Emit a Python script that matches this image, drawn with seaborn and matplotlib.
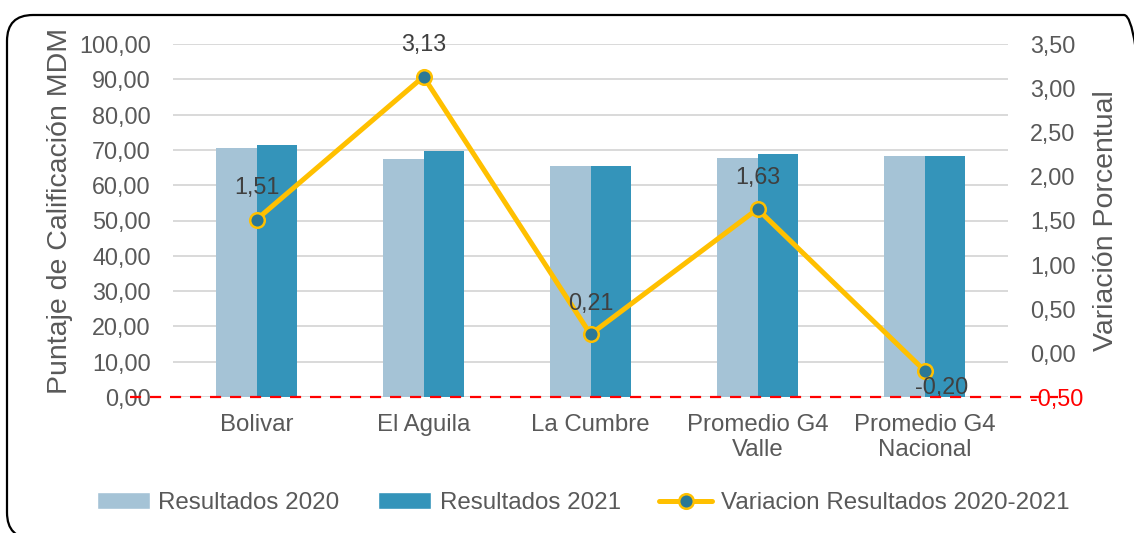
import numpy as np
import pandas as pd
import matplotlib
matplotlib.use("Agg")
import matplotlib.pyplot as plt
import matplotlib.transforms as mtransforms
from matplotlib.patches import FancyBboxPatch, Patch
from matplotlib.lines import Line2D
import seaborn as sns

# data
municipios = ["Bolivar", "El Aguila", "La Cumbre", "Promedio G4\nValle", "Promedio G4\nNacional"]
resultados_2020 = [70.5, 67.5, 65.3, 67.8, 68.3]
resultados_2021 = [71.5, 69.6, 65.4, 68.9, 68.2]
variacion = [1.51, 3.13, 0.21, 1.63, -0.20]
series = ["Resultados 2020", "Resultados 2021"]
left_ticks = [0, 10, 20, 30, 40, 50, 60, 70, 80, 90, 100]
right_ticks = [-0.5, 0.0, 0.5, 1.0, 1.5, 2.0, 2.5, 3.0, 3.5]

c2020 = "#A5C3D6"
c2021 = "#3494BA"
cline = "#FFC000"
cmark = "#2B7896"
gray = "#595959"
dark = "#404040"

sns.set_style("white")
plt.rcParams["font.family"] = ["Liberation Sans", "DejaVu Sans"]

df = pd.DataFrame({
    "Municipio": municipios * 2,
    "Valor": resultados_2020 + resultados_2021,
    "Serie": [series[0]] * len(municipios) + [series[1]] * len(municipios),
})

fig = plt.figure(figsize=(11.34, 5.33), dpi=100)
ax = fig.add_axes([173 / 1134, 1 - 397 / 533, 835 / 1134, 353 / 533])

sns.barplot(data=df, x="Municipio", y="Valor", hue="Serie", palette=[c2020, c2021],
            width=0.48, gap=0, legend=False, ax=ax, saturation=1, linewidth=0)

def fmt(v):
    return f"{v:.2f}".replace(".", ",")

ax.set_ylim(0, 100)
ax.set_xlim(-0.5, len(municipios) - 0.5)
ax.set_yticks(left_ticks)
ax.set_yticklabels([fmt(v) for v in left_ticks])
ax.set_axisbelow(True)
ax.yaxis.grid(True, color="#D9D9D9", lw=1.4)
ax.tick_params(axis="y", length=0, pad=16, labelsize=16.8, labelcolor=gray)
ax.tick_params(axis="x", length=0, pad=12, labelsize=17.3, labelcolor=gray)
ax.set_xlabel("")
ax.set_ylabel("Puntaje de Calificación MDM", fontsize=20.5, color=gray)
ax.yaxis.set_label_coords(-0.12, 0.527)
for s in ax.spines.values():
    s.set_visible(False)

ax2 = ax.twinx()
pos = np.arange(len(municipios))
ax2.plot(pos, variacion, color=cline, lw=3.6, marker="o", ms=10.5,
         markerfacecolor=cmark, markeredgecolor=cline, markeredgewidth=1.8, zorder=5)
ax2.set_ylim(-0.5, 3.5)
ax2.set_yticks(right_ticks)
ax2.set_yticklabels([fmt(v) for v in right_ticks])
ax2.tick_params(axis="y", length=0, pad=16, labelsize=16.8, labelcolor=gray)
ax2.get_yticklabels()[0].set_color("red")
ax2.set_ylabel("Variación Porcentual", fontsize=20.5, color=gray)
ax2.yaxis.set_label_coords(1.102, 0.5)
for s in ax2.spines.values():
    s.set_visible(False)

offsets = [(0, 23), (0, 23), (0, 22), (0, 23), (12, -12)]
for x, v, off in zip(pos, variacion, offsets):
    ax2.annotate(fmt(v), (x, v), xytext=off, textcoords="offset points",
                 ha="center", va="center", fontsize=16.8, color=dark, zorder=6)

ax2.axhline(-0.5, xmin=-0.0515, xmax=1.06, color="red", lw=1.6,
            linestyle=(0, (5, 4)), clip_on=False, zorder=10)

handles = [Patch(facecolor=c2020), Patch(facecolor=c2021),
           Line2D([], [], color=cline, lw=3.6, marker="o", ms=10.5,
                  markerfacecolor=cmark, markeredgecolor=cline, markeredgewidth=1.8)]
labels = series + ["Variacion Resultados 2020-2021"]
leg = fig.legend(handles, labels, loc="center", bbox_to_anchor=(583 / 1134, 1 - 503 / 533),
                 ncol=3, frameon=False, fontsize=17.4, handlelength=2.2, handleheight=0.7,
                 handletextpad=0.35, columnspacing=1.6)
for t in leg.get_texts():
    t.set_color(gray)

border = FancyBboxPatch((7, -5.5), 1143, 523.5, boxstyle="round,pad=0,rounding_size=26",
                        transform=mtransforms.IdentityTransform(), fill=False,
                        edgecolor="black", lw=1.6)
fig.patches.append(border)

fig.savefig("out.png", dpi=100)
